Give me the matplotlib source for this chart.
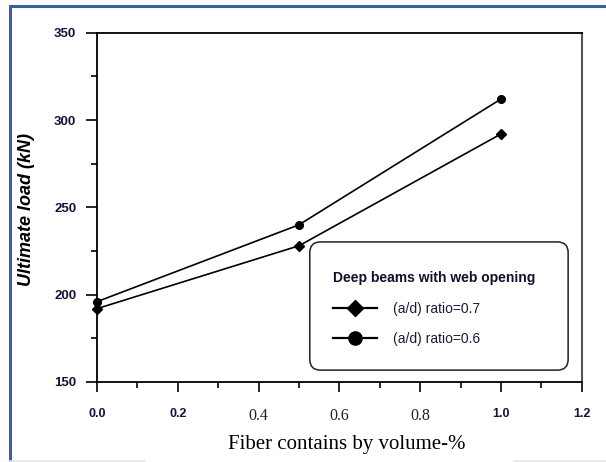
import matplotlib
matplotlib.use("Agg")
import matplotlib.pyplot as plt
from matplotlib.lines import Line2D
from matplotlib.patches import FancyBboxPatch, Rectangle
from matplotlib.ticker import MultipleLocator

# ---- data ----
fiber = [0.0, 0.5, 1.0]
ratio_07 = [192, 228, 292]
ratio_06 = [196, 240, 312]
series_labels = ["(a/d) ratio=0.7", "(a/d) ratio=0.6"]
legend_title = "Deep beams with web opening"
x_ticks = [0.0, 0.2, 0.4, 0.6, 0.8, 1.0, 1.2]
x_tick_labels = ["0.0", "0.2", "0.4", "0.6", "0.8", "1.0", "1.2"]
y_ticks = [150, 200, 250, 300, 350]
xlabel = "Fiber contains by volume-%"
ylabel = "Ultimate load (kN)"

W, H = 606, 462
fig = plt.figure(figsize=(W / 100, H / 100), dpi=100)
ax = fig.add_axes([97 / W, 1 - 382 / H, 484.7 / W, 349.3 / H])

# frame border (blue)
fig.patches.append(Rectangle((9.5 / W, -0.1), 1.2, 1 - 6.5 / H + 0.1,
                             transform=fig.transFigure, fill=False,
                             edgecolor="#3c5fa3", linewidth=2.2))
fig.lines.append(Line2D([10 / W, 145 / W], [1.5 / H, 1.5 / H],
                        transform=fig.transFigure, color="#e6e6e6", lw=1.2))
fig.lines.append(Line2D([514 / W, 1.0], [1.5 / H, 1.5 / H],
                        transform=fig.transFigure, color="#e6e6e6", lw=1.2))

ax.plot(fiber, ratio_07, color="black", lw=1.2, marker="D", ms=5, clip_on=False, zorder=3)
ax.plot(fiber, ratio_06, color="black", lw=1.2, marker="o", ms=5.5, clip_on=False, zorder=3)

ax.set_xlim(0, 1.2)
ax.set_ylim(150, 350)
ax.set_xticks(x_ticks)
ax.set_xticklabels(x_tick_labels)
ax.set_yticks(y_ticks)
ax.xaxis.set_minor_locator(MultipleLocator(0.1))
ax.yaxis.set_minor_locator(MultipleLocator(25))

ax.tick_params(axis="y", which="major", direction="out", length=8, width=1.2, pad=7,
               labelsize=9.5, labelcolor="#14143a")
ax.tick_params(axis="y", which="minor", direction="out", length=4, width=1.2)
ax.tick_params(axis="x", which="major", direction="out", length=7.5, width=1.2, pad=11)
ax.tick_params(axis="x", which="minor", direction="out", length=4.5, width=1.2)

for lbl in ax.get_yticklabels():
    lbl.set_fontfamily("Liberation Sans")
    lbl.set_fontweight("bold")
serif_ticks = {"0.4", "0.6", "0.8"}
for lbl in ax.get_xticklabels():
    if lbl.get_text() in serif_ticks:
        lbl.set_fontfamily("Liberation Serif")
        lbl.set_fontsize(11.5)
        lbl.set_color("#222222")
    else:
        lbl.set_fontfamily("Liberation Sans")
        lbl.set_fontweight("bold")
        lbl.set_fontsize(9)
        lbl.set_color("#14143a")

for s in ["left", "bottom", "top"]:
    ax.spines[s].set_linewidth(1.3)
    ax.spines[s].set_color("black")
ax.spines["right"].set_linewidth(1.5)
ax.spines["right"].set_color("#555555")

ax.set_xlabel(xlabel, fontfamily="Liberation Serif", fontsize=15, color="black")
ax.xaxis.set_label_coords(0.515, -0.152)
ax.set_ylabel(ylabel, fontfamily="Liberation Sans", fontweight="bold", style="italic",
              fontsize=13, color="black")
ax.yaxis.set_label_coords(-0.128, 0.494)

# legend box
box = FancyBboxPatch((0.439, 0.034), 0.972 - 0.439, 0.401 - 0.034,
                     boxstyle="round,pad=0,rounding_size=0.022", mutation_aspect=484.7 / 349.3,
                     transform=ax.transAxes, facecolor="white", edgecolor="#222222",
                     linewidth=1.1, zorder=4)
ax.add_patch(box)

handles = [Line2D([], [], color="black", lw=1.6, marker="D", ms=8.5),
           Line2D([], [], color="black", lw=1.6, marker="o", ms=9.5)]
leg = ax.legend(handles, series_labels, title=legend_title, loc="upper left",
                bbox_to_anchor=((333 - 97) / 484.7, (382 - 271) / 349.3),
                frameon=False, alignment="left", borderpad=0, borderaxespad=0,
                handlelength=3.2, handletextpad=1.15, labelspacing=1.2,
                prop={"family": "Liberation Sans", "size": 10},
                title_fontproperties={"family": "Liberation Sans", "weight": "bold", "size": 10})
leg.set_zorder(5)
for t in leg.get_texts():
    t.set_color("#1a1a3a")
leg.get_title().set_color("#10102a")

fig.savefig("out.png", dpi=100)
